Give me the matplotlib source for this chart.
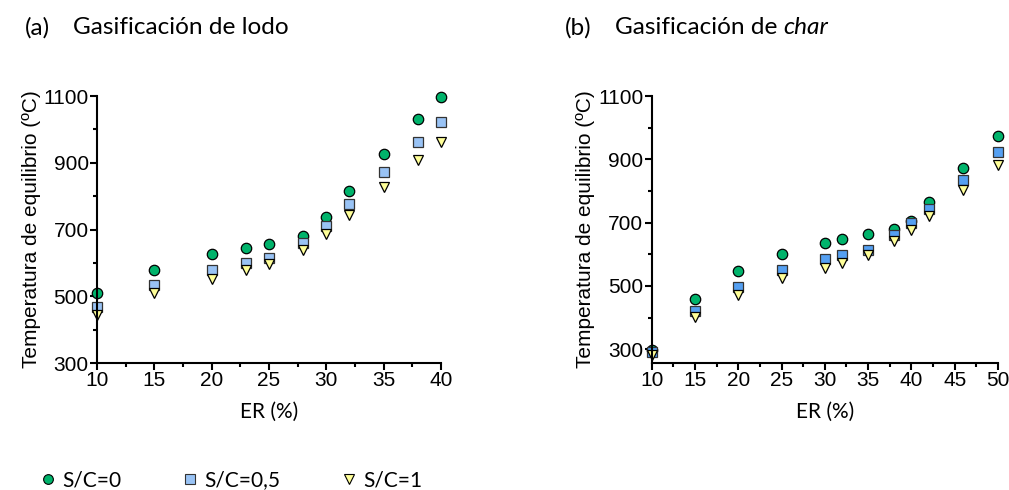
import matplotlib.pyplot as plt
from matplotlib.ticker import MultipleLocator, FixedLocator
from matplotlib.lines import Line2D

plt.rcParams['font.family'] = ['Liberation Sans', 'DejaVu Sans']

# (a) Gasificación de lodo
er_lodo = [10, 15, 20, 23, 25, 28, 30, 32, 35, 38, 40]
lodo_sc0 = [509, 580, 626, 645, 658, 680, 738, 816, 927, 1032, 1096]
lodo_sc05 = [468, 535, 580, 600, 616, 661, 710, 776, 871, 963, 1021]
lodo_sc1 = [445, 509, 553, 579, 598, 639, 686, 743, 828, 909, 961]

# (b) Gasificación de char
er_char = [10, 15, 20, 25, 30, 32, 35, 38, 40, 42, 46, 50]
char_sc0 = [298, 459, 547, 602, 637, 649, 663, 679, 706, 764, 874, 974]
char_sc05 = [290, 421, 498, 549, 586, 598, 613, 660, 699, 744, 835, 923]
char_sc1 = [282, 403, 472, 524, 557, 572, 599, 641, 678, 721, 803, 882]

y_major = [300, 500, 700, 900, 1100]
y_minor = [400, 600, 800, 1000]

green = '#00b36b'
blue_a = '#99c3f5'
blue_b = '#55a0f2'
yellow = '#ffff99'

text_font = 'Lato'

fig = plt.figure(figsize=(10.09, 4.90), dpi=100)
ax1 = fig.add_axes([0.0961, 0.259, 0.341, 0.545])
ax2 = fig.add_axes([0.646, 0.259, 0.343, 0.545])


def style_axis(ax, xlim, ylim):
    ax.set_xlim(*xlim)
    ax.set_ylim(*ylim)
    for s in ['top', 'right']:
        ax.spines[s].set_visible(False)
    for s in ['left', 'bottom']:
        ax.spines[s].set_linewidth(1.5)
    ax.xaxis.set_major_locator(MultipleLocator(5))
    ax.xaxis.set_minor_locator(MultipleLocator(2.5))
    ax.yaxis.set_major_locator(FixedLocator(y_major))
    ax.yaxis.set_minor_locator(FixedLocator(y_minor))
    ax.tick_params(which='major', length=5, width=1.5, labelsize=15, pad=1)
    ax.tick_params(which='minor', length=3, width=1.5)
    ax.set_ylabel('Temperatura de equilibrio (ºC)', fontsize=15, labelpad=2)
    ax.set_xlabel('ER (%)', fontsize=15, fontfamily=text_font, labelpad=8)


ms = 7.5
ax1.plot(er_lodo, lodo_sc0, 'o', ms=ms, mfc=green, mec='black', mew=0.9, clip_on=False)
ax1.plot(er_lodo, lodo_sc05, 's', ms=ms - 0.5, mfc=blue_a, mec='#333333', mew=0.9, clip_on=False)
ax1.plot(er_lodo, lodo_sc1, 'v', ms=ms, mfc=yellow, mec='black', mew=0.9, clip_on=False)
style_axis(ax1, (10, 40), (300, 1100))

ax2.plot(er_char, char_sc0, 'o', ms=ms, mfc=green, mec='black', mew=0.9, clip_on=False)
ax2.plot(er_char, char_sc05, 's', ms=ms - 0.5, mfc=blue_b, mec='#333333', mew=0.9, clip_on=False)
ax2.plot(er_char, char_sc1, 'v', ms=ms, mfc=yellow, mec='black', mew=0.9, clip_on=False)
style_axis(ax2, (10, 50), (256, 1100))

# panel titles: size chosen so "Gasificación de lodo" is about 215 px wide
ty = 0.943
probe = fig.text(0, 0, 'Gasificación de lodo', fontsize=18, fontfamily=text_font)
fig.canvas.draw()
title_size = 18 * 215 / probe.get_window_extent().width
probe.remove()

fig.text(0.0248, ty, '(a)', fontsize=title_size, fontfamily=text_font, va='center')
fig.text(0.0723, ty, 'Gasificación de lodo', fontsize=title_size, fontfamily=text_font, va='center')
fig.text(0.560, ty, '(b)', fontsize=title_size, fontfamily=text_font, va='center')
t = fig.text(0.6095, ty, 'Gasificación de ', fontsize=title_size, fontfamily=text_font, va='center')
fig.canvas.draw()
bb = t.get_window_extent().transformed(fig.transFigure.inverted())
fig.text(bb.x1, ty, 'char', fontsize=title_size, fontfamily=text_font, va='center', style='italic')

handles = [
    Line2D([], [], ls='', marker='o', ms=7, mfc=green, mec='black', mew=0.8),
    Line2D([], [], ls='', marker='s', ms=6.5, mfc=blue_a, mec='#333333', mew=0.8),
    Line2D([], [], ls='', marker='v', ms=7, mfc=yellow, mec='black', mew=0.8),
]
fig.legend(handles, ['S/C=0', 'S/C=0,5', 'S/C=1'], loc='center left',
           bbox_to_anchor=(0.0352, 0.0204), ncol=3, frameon=False,
           prop={'family': text_font, 'size': 15}, handletextpad=0.1,
           columnspacing=2.67, handlelength=1.2, borderpad=0, borderaxespad=0)

fig.savefig('out.png', dpi=100)
